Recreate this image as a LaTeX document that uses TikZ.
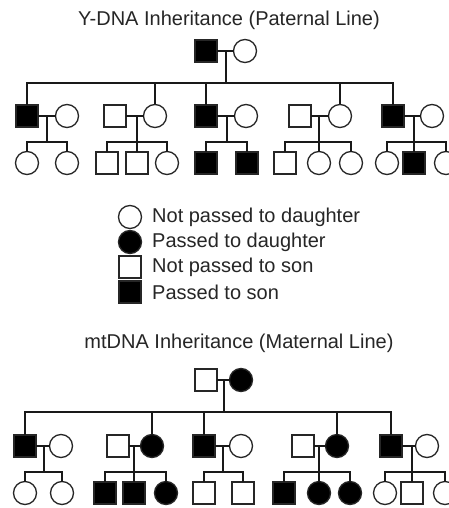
\documentclass[tikz,border=0pt]{standalone}
\usepackage{fontspec}
\setmainfont{Liberation Sans}

\tikzset{
  male/.style={draw=black!85, line width=1.3pt, minimum size=22pt, inner sep=0pt, outer sep=0pt, fill=white},
  female/.style={circle, draw=black!85, line width=1.3pt, minimum size=23pt, inner sep=0pt, outer sep=0pt, fill=white},
  hit/.style={fill=black},
  link/.style={line width=1.9pt, black!90},
  label/.style={font=\fontsize{20}{24}\selectfont, text=black!85, inner sep=0pt},
}

\begin{document}
\begin{tikzpicture}[x=1pt, y=-1pt]
\useasboundingbox[fill=white] (0,0) rectangle (449,508);
\clip (0,0) rectangle (449,508);

% Y-DNA
\node [label] (ytitle) at (229,20) {Y-DNA Inheritance (Paternal Line)};
\node [male, hit] (y0m) at (206,51) {};
\node [female] (y0f) at (245,51) {};
\coordinate (y0s) at (226,83);

\node [male, hit] (y1m) at (27,116) {};
\node [female] (y1f) at (67,116) {};
\node [male] (y2m) at (115,116) {};
\node [female] (y2f) at (155,116) {};
\node [male, hit] (y3m) at (206,116) {};
\node [female] (y3f) at (246,116) {};
\node [male] (y4m) at (300,116) {};
\node [female] (y4f) at (340,116) {};
\node [male, hit] (y5m) at (393,116) {};
\node [female] (y5f) at (432,116) {};

\coordinate (y1s) at (47,142);
\coordinate (y2s) at (137,142);
\coordinate (y3s) at (227,142);
\coordinate (y4s) at (319,142);
\coordinate (y5s) at (414,142);

\node [female] (y1a) at (27,163) {};
\node [female] (y1b) at (67,163) {};
\node [male] (y2a) at (107,163) {};
\node [male] (y2b) at (137,163) {};
\node [female] (y2c) at (167,163) {};
\node [male, hit] (y3a) at (206,163) {};
\node [male, hit] (y3b) at (247,163) {};
\node [male] (y4a) at (285,163) {};
\node [female] (y4b) at (319,163) {};
\node [female] (y4c) at (351,163) {};
\node [female] (y5a) at (387,163) {};
\node [male, hit] (y5b) at (414,163) {};
\node [female] (y5c) at (446,163) {};

\draw [link] (y0m.east) -- (y0f.west);
\draw [link] (y0m.east -| y0s) -- (y0s);
\draw [link] (y1m.north) |- (y0s) -| (y5m.north);
\draw [link] (y2f.north) -- (y2f.north |- y0s);
\draw [link] (y3m.north) -- (y3m.north |- y0s);
\draw [link] (y4f.north) -- (y4f.north |- y0s);
\foreach \i in {1,...,5}
  \draw [link] (y\i m.east) -- (y\i f.west)
               (y\i m.east -| y\i s) -- (y\i s);
\draw [link] (y1a.north) |- (y1s) -| (y1b.north);
\draw [link] (y2a.north) |- (y2s) -| (y2c.north);
\draw [link] (y2s) -- (y2b.north);
\draw [link] (y3a.north) |- (y3s) -| (y3b.north);
\draw [link] (y4a.north) |- (y4s) -| (y4c.north);
\draw [link] (y4s) -- (y4b.north);
\draw [link] (y5a.north) |- (y5s) -| (y5c.north);
\draw [link] (y5s) -- (y5b.north);

% legend
\node [female] (k1) at (130,217) {};
\node [female, hit] (k2) at (130,242) {};
\node [male] (k3) at (130,267) {};
\node [male, hit] (k4) at (130,292) {};
\node [label, anchor=west] (t1) at (152,217) {Not passed to daughter};
\node [label, anchor=west] (t2) at (152,242) {Passed to daughter};
\node [label, anchor=west] (t3) at (152,267) {Not passed to son};
\node [label, anchor=west] (t4) at (152,292) {Passed to son};

% mtDNA
\node [label] (mtitle) at (239,343) {mtDNA Inheritance (Maternal Line)};
\node [male] (m0m) at (206,380) {};
\node [female, hit] (m0f) at (241,380) {};
\coordinate (m0s) at (224,412);

\node [male, hit] (m1m) at (25,446) {};
\node [female] (m1f) at (61,446) {};
\node [male] (m2m) at (118,446) {};
\node [female, hit] (m2f) at (152,446) {};
\node [male, hit] (m3m) at (204,446) {};
\node [female] (m3f) at (241,446) {};
\node [male] (m4m) at (303,446) {};
\node [female, hit] (m4f) at (337,446) {};
\node [male, hit] (m5m) at (391,446) {};
\node [female] (m5f) at (427,446) {};

\coordinate (m1s) at (44,472);
\coordinate (m2s) at (134,472);
\coordinate (m3s) at (223,472);
\coordinate (m4s) at (319,472);
\coordinate (m5s) at (412,472);

\node [female] (m1a) at (25,493) {};
\node [female] (m1b) at (62,493) {};
\node [male, hit] (m2a) at (105,493) {};
\node [male, hit] (m2b) at (134,493) {};
\node [female, hit] (m2c) at (166,493) {};
\node [male] (m3a) at (204,493) {};
\node [male] (m3b) at (243,493) {};
\node [male, hit] (m4a) at (284,493) {};
\node [female, hit] (m4b) at (319,493) {};
\node [female, hit] (m4c) at (350,493) {};
\node [female] (m5a) at (385,493) {};
\node [male] (m5b) at (412,493) {};
\node [female] (m5c) at (445,493) {};

\draw [link] (m0m.east) -- (m0f.west);
\draw [link] (m0m.east -| m0s) -- (m0s);
\draw [link] (m1m.north) |- (m0s) -| (m5m.north);
\draw [link] (m2f.north) -- (m2f.north |- m0s);
\draw [link] (m3m.north) -- (m3m.north |- m0s);
\draw [link] (m4f.north) -- (m4f.north |- m0s);
\foreach \i in {1,...,5}
  \draw [link] (m\i m.east) -- (m\i f.west)
               (m\i m.east -| m\i s) -- (m\i s);
\draw [link] (m1a.north) |- (m1s) -| (m1b.north);
\draw [link] (m2a.north) |- (m2s) -| (m2c.north);
\draw [link] (m2s) -- (m2b.north);
\draw [link] (m3a.north) |- (m3s) -| (m3b.north);
\draw [link] (m4a.north) |- (m4s) -| (m4c.north);
\draw [link] (m4s) -- (m4b.north);
\draw [link] (m5a.north) |- (m5s) -| (m5c.north);
\draw [link] (m5s) -- (m5b.north);
\end{tikzpicture}
\end{document}
